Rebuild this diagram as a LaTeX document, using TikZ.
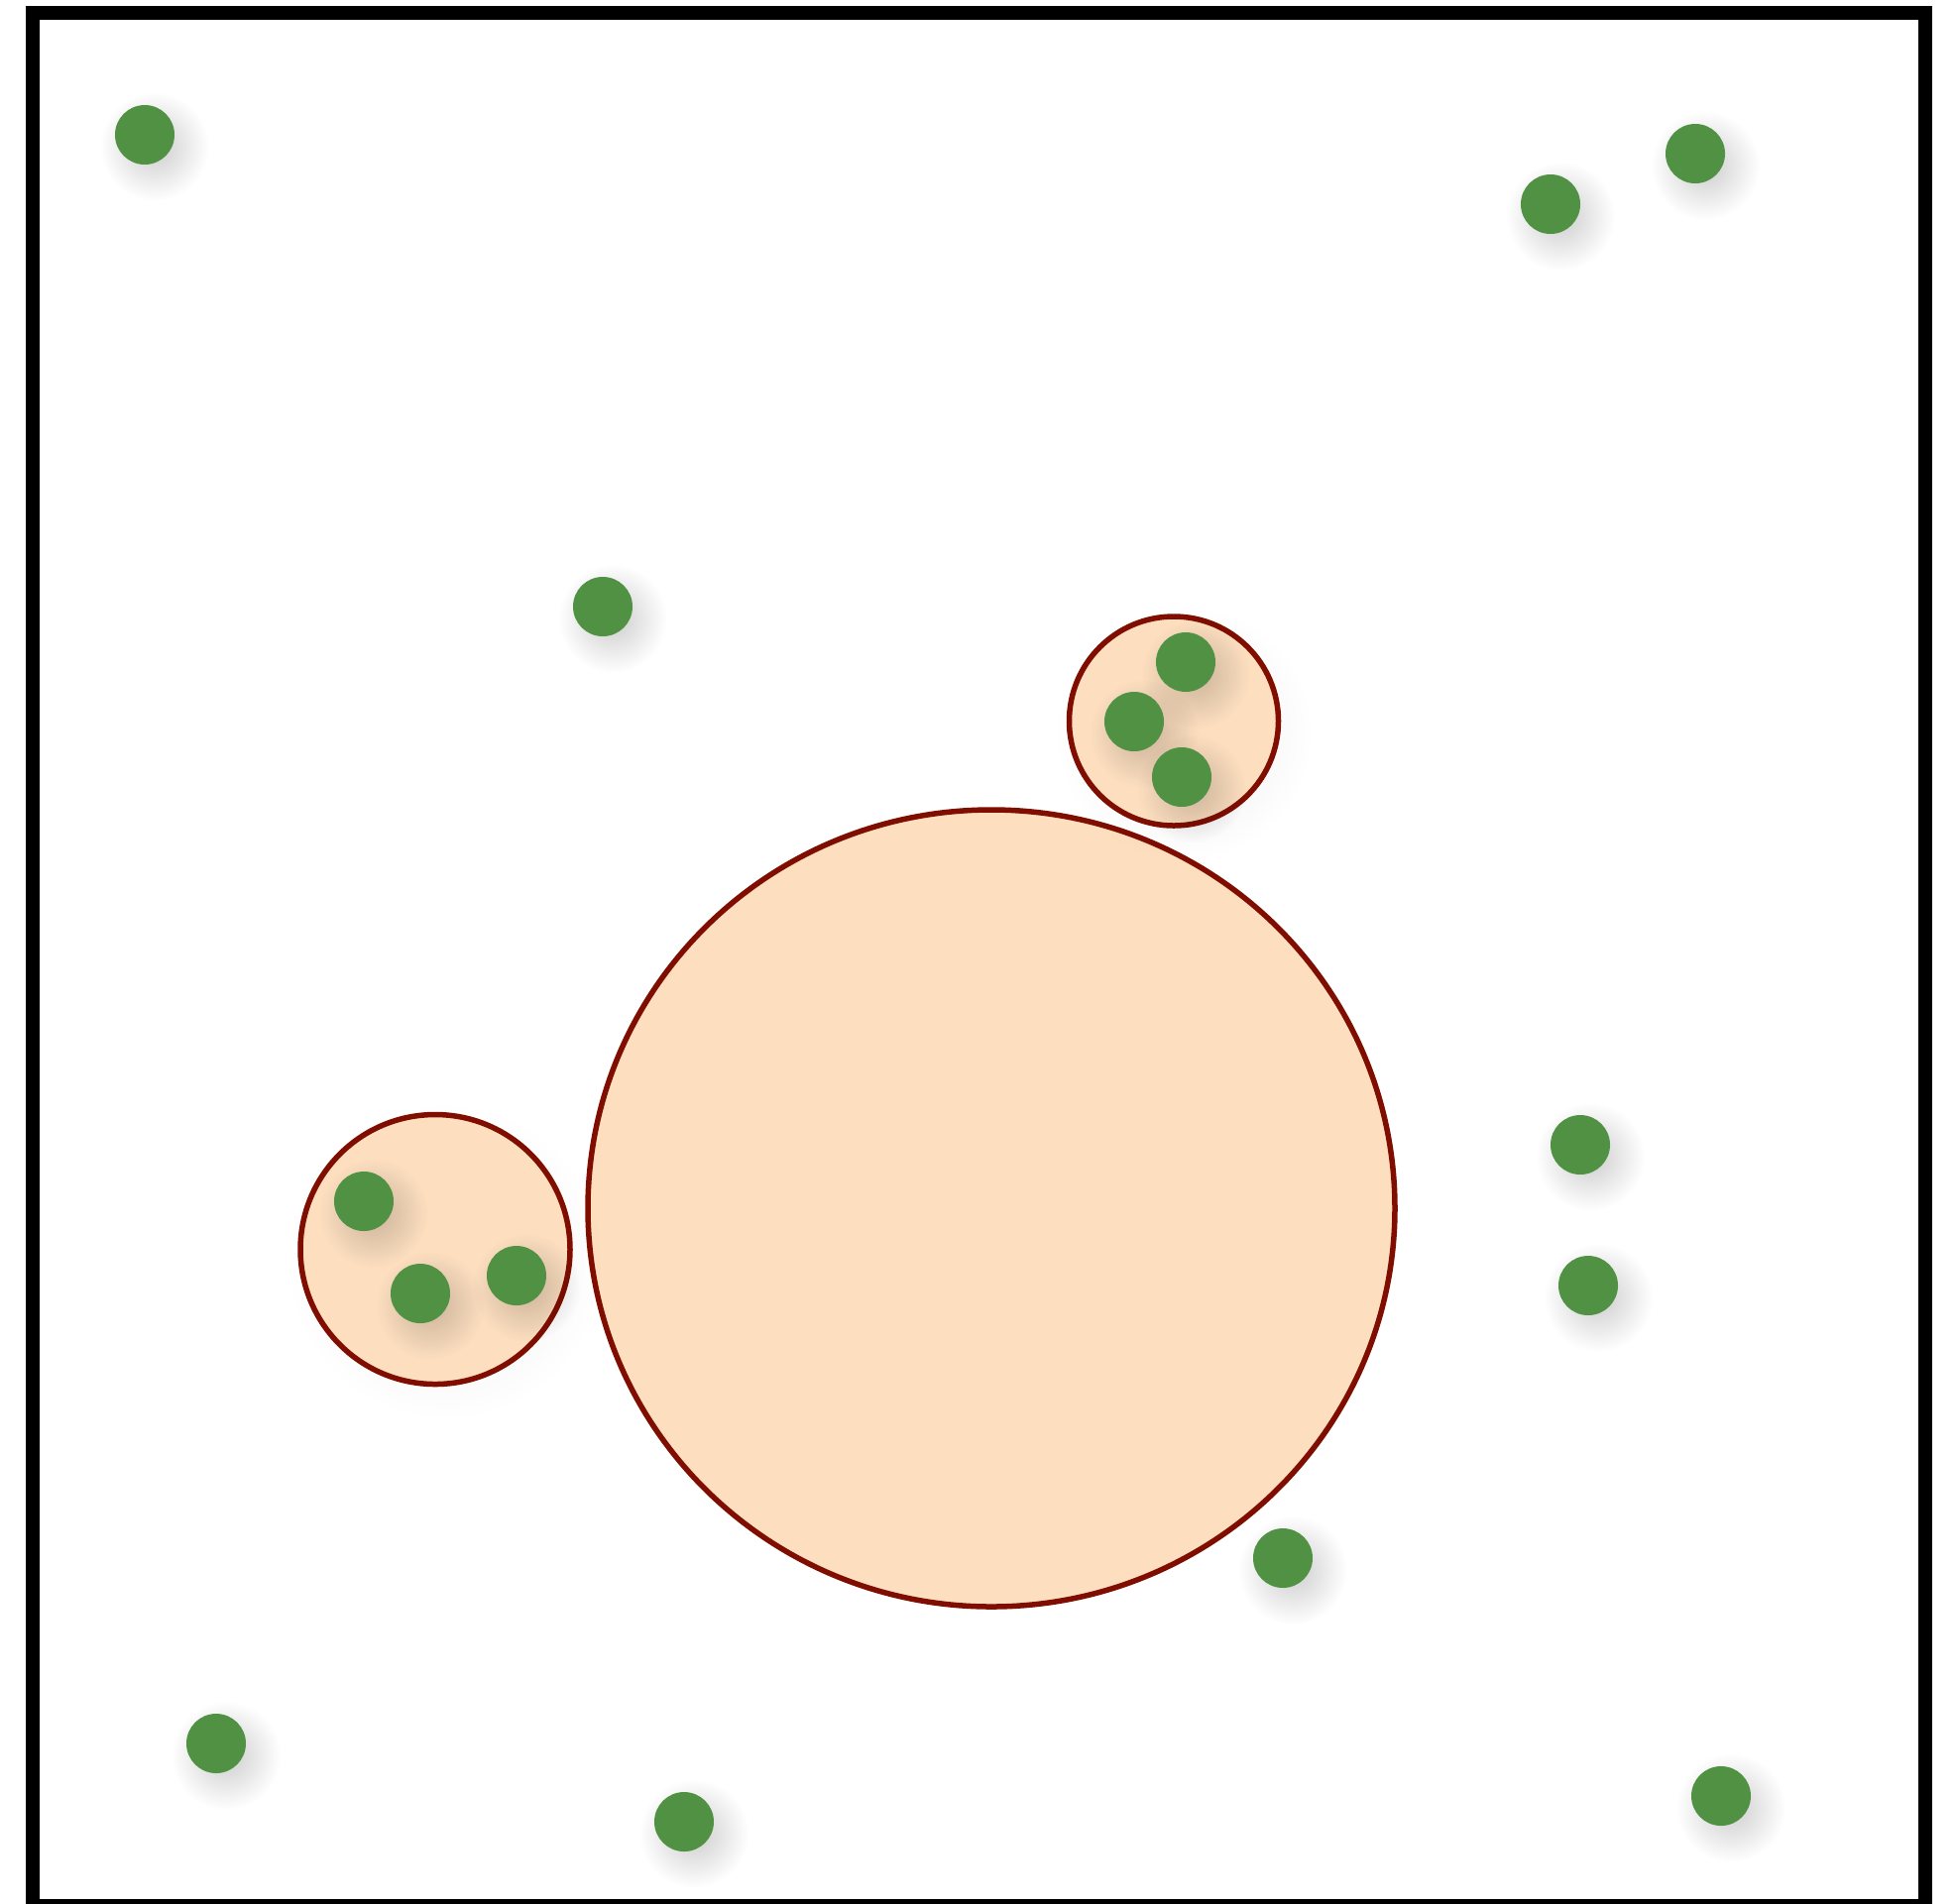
\documentclass[tikz,border=0pt]{standalone}
\usetikzlibrary{fadings}
\definecolor{dotgreen}{RGB}{81,145,67}
\definecolor{peach}{RGB}{253,223,192}
\definecolor{rim}{RGB}{128,14,0}
\tikzfading[name=softfade, inner color=transparent!80, outer color=transparent!100]
\tikzfading[name=faintfade, inner color=transparent!92, outer color=transparent!100]
\tikzset{
  dotnode/.style={circle, fill=dotgreen, minimum size=60*0.01cm, inner sep=0pt, draw=none},
  cellbox/.style={fill=peach, draw=rim, line width=5.5*0.01cm},
  framebox/.style={draw=black, line width=14*0.01cm},
}
\newcommand{\softshadow}[3]{\fill[black, path fading=softfade] (#1+10,#2+12) circle (#3);}
\newcommand{\faintshadow}[3]{\fill[black, path fading=faintfade] (#1+10,#2+12) circle (#3);}
\begin{document}
\begin{tikzpicture}[x=0.01cm, y=-0.01cm]
\useasboundingbox (0,0) rectangle (1973,1920);
\fill[white] (0,0) rectangle (1973,1920);
\draw[framebox] (32.5,13) rectangle (1941.5,1923);
% big cell
\draw[cellbox] (1000,1219) ellipse [x radius=407, y radius=402];
% small cells
\faintshadow{1184}{727.5}{130}
\node[cellbox, circle, minimum size=211*0.01cm, inner sep=0pt] (c1) at (1184,727.5) {};
\faintshadow{439}{1260.5}{160}
\node[cellbox, circle, minimum size=272*0.01cm, inner sep=0pt] (c2) at (439,1260.5) {};
% dots
\foreach \n/\x/\y in {d1/146/136, d2/1564/206, d3/1710/155, d4/608/612,
  d5/1196/668, d6/1144/728, d7/1192/784, d8/367/1212, d9/424/1305, d10/521/1287,
  d11/1594/1155, d12/1602/1297, d13/1294/1572, d14/218/1759, d15/690/1838, d16/1736/1812}{
  \softshadow{\x}{\y}{55}
}
\foreach \n/\x/\y in {d1/146/136, d2/1564/206, d3/1710/155, d4/608/612,
  d5/1196/668, d6/1144/728, d7/1192/784, d8/367/1212, d9/424/1305, d10/521/1287,
  d11/1594/1155, d12/1602/1297, d13/1294/1572, d14/218/1759, d15/690/1838, d16/1736/1812}{
  \node[dotnode] (\n) at (\x,\y) {};
}
\end{tikzpicture}
\end{document}
